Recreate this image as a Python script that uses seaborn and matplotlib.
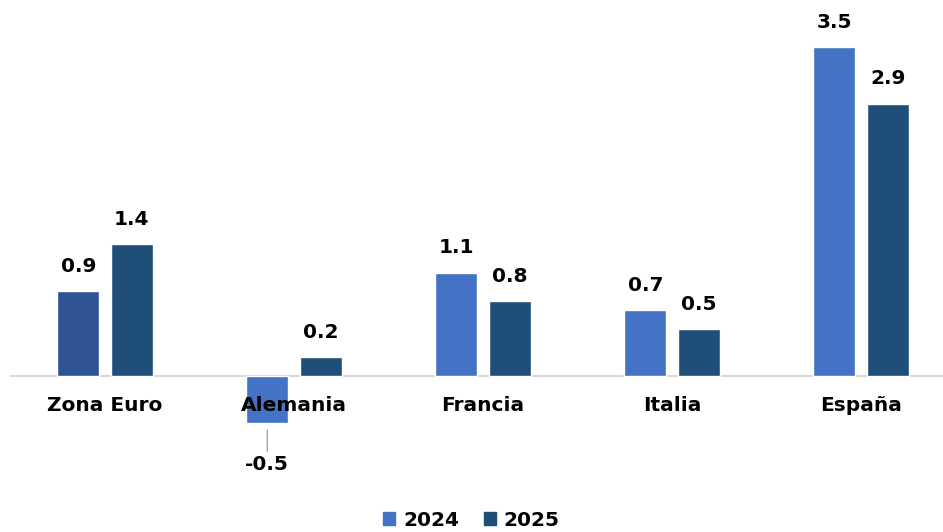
import matplotlib.pyplot as plt
import pandas as pd
import seaborn as sns

categories = ["Zona Euro", "Alemania", "Francia", "Italia", "España"]
years = ["2024", "2025"]
values_2024 = [0.9, -0.5, 1.1, 0.7, 3.5]
values_2025 = [1.4, 0.2, 0.8, 0.5, 2.9]

df = pd.DataFrame({
    "Pais": categories * 2,
    "Year": [years[0]] * 5 + [years[1]] * 5,
    "Valor": values_2024 + values_2025,
})

sns.set_style("white")
plt.rcParams['font.family'] = ['DejaVu Sans']
plt.rcParams['text.color'] = 'black'

fig = plt.figure(figsize=(9.43, 5.32), dpi=100)
ax = fig.add_axes([10 / 943, (532 - 460) / 532, 933 / 943, (460 - 19) / 532])

palette = {"2024": "#4472C4", "2025": "#1F4E79"}
sns.barplot(data=df, x="Pais", y="Valor", hue="Year", palette=palette,
            width=0.566, gap=0.215, ax=ax, legend=False, saturation=1)

# Zona Euro 2024 bar drawn in a darker blue in the original
ax.containers[0].patches[0].set_facecolor("#2F5496")

ax.set_xlim(-0.503, 4.434)
ax.set_ylim(-0.895, 3.8)
ax.axhline(0, color="#D9D9D9", lw=1.5, zorder=0)
sns.despine(ax=ax, left=True, bottom=True)
ax.set_xticks([])
ax.set_yticks([])
ax.set_xlabel("")
ax.set_ylabel("")

fs = 14.5
for cont in ax.containers:
    for bar in cont.patches:
        v = bar.get_height()
        x = bar.get_x() + bar.get_width() / 2
        if v >= 0:
            ax.annotate(f"{v:.1f}", (x, v), xytext=(0, 11), textcoords="offset points",
                        ha="center", va="bottom", fontsize=fs, fontweight="bold", color="black")
        else:
            ax.annotate(f"{v:.1f}", (x, v), xytext=(0, -23), textcoords="offset points",
                        ha="center", va="top", fontsize=fs, fontweight="bold", color="black",
                        arrowprops=dict(arrowstyle="-", color="#A6A6A6", lw=1,
                                        shrinkA=0, shrinkB=5))

for i, name in enumerate(categories):
    ax.text(i, -0.32, name, ha="center", va="center", fontsize=fs, fontweight="bold",
            color="black")

handles = [plt.Rectangle((0, 0), 1, 1, color=palette[y]) for y in years]
leg = fig.legend(handles, years, loc="lower center", ncol=2, frameon=False,
                 bbox_to_anchor=(0.5, -0.03), prop={"weight": "bold", "size": fs},
                 handlelength=0.6, handleheight=0.6, handletextpad=0.4, columnspacing=1.2)
for t in leg.get_texts():
    t.set_color("black")

fig.savefig("out.png", dpi=100)
